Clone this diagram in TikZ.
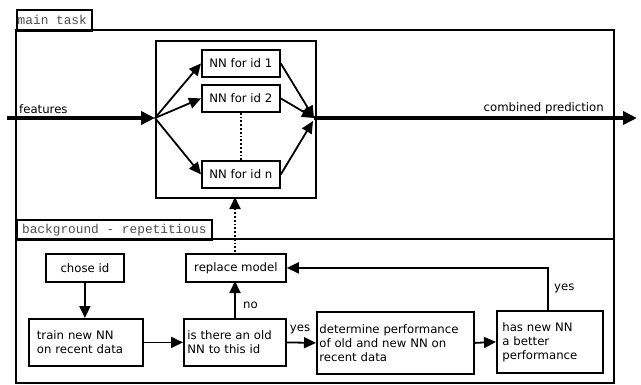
\documentclass[tikz,border=0pt]{standalone}
\usepackage{fontspec}
\setmainfont{DejaVu Sans}
\newfontfamily\tabfont{Liberation Mono}
\usetikzlibrary{arrows.meta,positioning}
\begin{document}
\begin{tikzpicture}[x=1pt,y=-1pt,
  frame/.style={draw,line width=1.6pt},
  tabbox/.style={draw,line width=1.6pt,anchor=north west,inner sep=0pt,
     text=black!70,font=\tabfont\fontsize{12.8}{14}\selectfont},
  box/.style={draw,line width=1.8pt,anchor=north west,inner sep=0pt,
     font=\fontsize{11.7}{14}\selectfont},
  lbl/.style={font=\fontsize{11.7}{14}\selectfont,inner sep=0pt},
  arr/.style={line width=1.8pt,-{Triangle[length=12pt,width=11pt]}},
  thickarr/.style={line width=3.8pt,-{Triangle[length=14pt,width=13pt]}},
  dotarr/.style={line width=1.8pt,dotted,-{Triangle[length=12pt,width=11pt]}}
]
\useasboundingbox (0,0) rectangle (641,384);
% outer frames
\draw[frame] (16,30) rectangle (614,383);
\node[tabbox,minimum width=75pt,minimum height=21pt] (tabmain) at (16,9) {\hspace*{-2pt}main task\hspace*{2pt}};
\draw[frame] (16,239) -- (614,239);
\node[tabbox,minimum width=195pt,minimum height=20pt] (tabbg) at (16,219) {background - repetitious};
% ensemble box
\node[draw,line width=1.8pt,anchor=north west,minimum width=160pt,minimum height=157pt] (ens) at (155,40) {};
\node[box,minimum width=78pt,minimum height=27pt] (nn1) at (201,49) {NN for id 1};
\node[box,minimum width=78pt,minimum height=27pt] (nn2) at (201,84) {NN for id 2};
\node[box,minimum width=78pt,minimum height=27pt] (nnn) at (201,160) {NN for id n};
\coordinate (fin) at (155,118);
\coordinate (fout) at (314,118);
\coordinate (start) at (7,118);
\coordinate (end) at (637,118);
\draw[thickarr] (start) -- (fin);
\node[lbl,anchor=south west] (featl) at (19,114) {features};
\draw[line width=3.8pt] (fout) -- (610,118);
\draw[thickarr] (600,118) -- (end);
\node[lbl,anchor=south east] (combl) at (604,114) {combined prediction};
\draw[arr] (fin) -- (nn1.west);
\draw[arr] (fin) -- (nn2.west);
\draw[arr] (fin) -- (nnn.west);
\draw[arr] (nn1.east) -- (fout);
\draw[arr] (nn2.east) -- (fout);
\draw[arr] (nnn.east) -- (313,121);
\draw[line width=1.8pt,dotted] (nn2.south) -- (nnn.north);
% background
\node[box,minimum width=78pt,minimum height=28pt] (chose) at (45,253) {chose id};
\node[box,minimum width=100pt,minimum height=28pt] (repl) at (185,253) {replace model};
\node[box,minimum width=114pt,minimum height=47pt,align=left,text width=98pt] (train) at (28,318) {train new NN\\on recent data};
\node[box,minimum width=102pt,minimum height=47pt,align=left,text width=95pt] (old) at (183,318) {is there an old\\NN to this id};
\node[box,minimum width=157pt,minimum height=62pt,align=left,text width=152pt] (det) at (316,311) {determine performance\\of old and new NN on\\recent data};
\node[box,minimum width=106pt,minimum height=62pt,align=left,text width=95pt] (has) at (496,310) {has new NN\\a better\\performance};
\draw[arr] (chose) -- (chose|-train.north);
\draw[arr] (train.east) -- (old.west);
\draw[arr] (old.east) -- (det.west);
\node[lbl,anchor=south] (yes1) at (300,334) {yes};
\draw[arr] (235,318) -- (235,281);
\node[lbl,anchor=west] (no1) at (243,305) {no};
\draw[arr] (det.east) -- (has.west);
\draw[arr] (548,310) -- (548,268) -- (repl.east);
\node[lbl,anchor=west] (yes2) at (554,288) {yes};
\draw[dotarr] (235,252) -- (235,197);
\end{tikzpicture}
\end{document}
